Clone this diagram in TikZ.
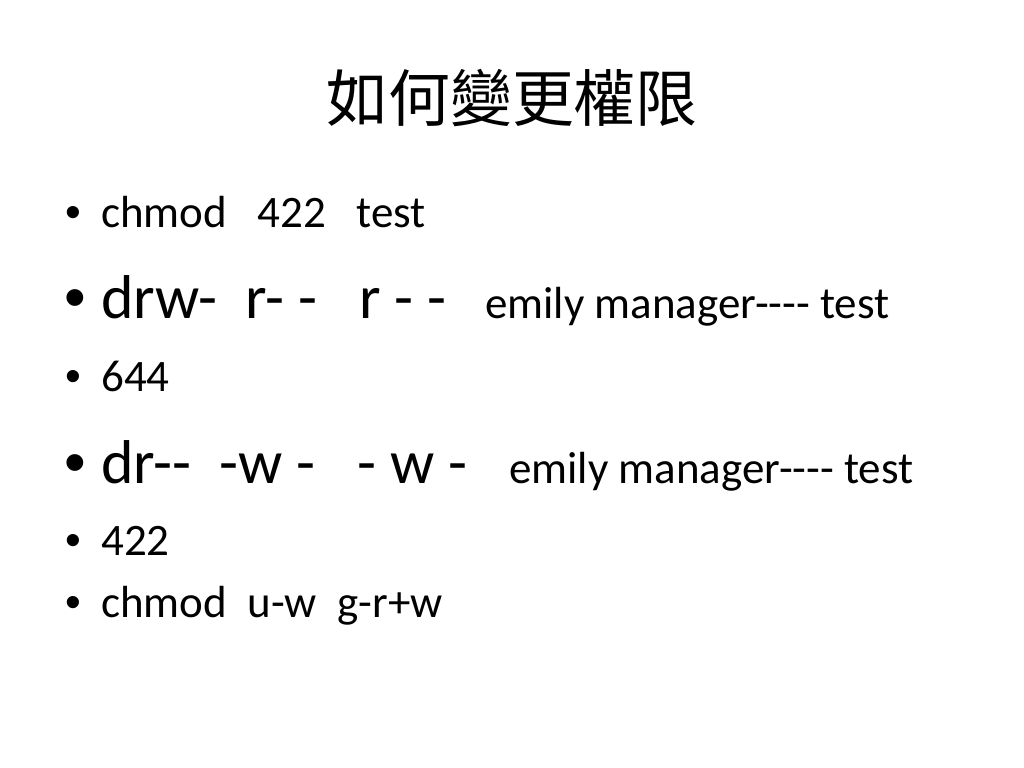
\documentclass[tikz,border=0pt]{standalone}
\usepackage{fontspec}
\setmainfont{Carlito}[Ligatures=TeXOff]
\newfontfamily\cjk{Noto Sans CJK TC}
\newfontfamily\dotfont{Liberation Sans}
\usetikzlibrary{positioning}

\begin{document}
\begin{tikzpicture}[x=0.025cm, y=-0.025cm,
	txt/.style = {anchor=base west, inner sep=0pt},
	small/.style = {txt, font=\fontsize{32}{38}\selectfont},
	big/.style = {txt, font=\fontsize{44}{52}\selectfont},
	dot/.style = {small, font=\dotfont\fontsize{32}{38}\selectfont},
	bigdot/.style = {big, font=\dotfont\fontsize{44}{52}\selectfont}]
	\useasboundingbox[fill=white] (0,0) rectangle (1024,768);
	% title
	\node[font=\cjk\fontsize{44}{52}\selectfont] (title) at (512,98) {如何變更權限};
	% bullets
	\node[dot] (d1) at (65,227) {•};
	\node[bigdot] (d2) at (64,318) {•};
	\node[dot] (d3) at (65,391) {•};
	\node[bigdot] (d4) at (64,483) {•};
	\node[dot] (d5) at (65,555) {•};
	\node[dot] (d6) at (65,617) {•};
	% lines
	\node[small] (1) at (101,227) {chmod~~~422~~~test};
	\node[big] (2) at (101,318) {drw-~~r-~-~~~r~-~-};
	\node[small] (2b) at (485,318) {emily manager---- test};
	\node[small] (3) at (101,391) {644};
	\node[big] (4) at (101,483) {dr--~~-w~-~~~-~w~-};
	\node[small] (4b) at (509,483) {emily manager---- test};
	\node[small] (5) at (101,555) {422};
	\node[small] (6) at (101,617) {chmod~~u-w~~g-r+w};
\end{tikzpicture}
\end{document}
